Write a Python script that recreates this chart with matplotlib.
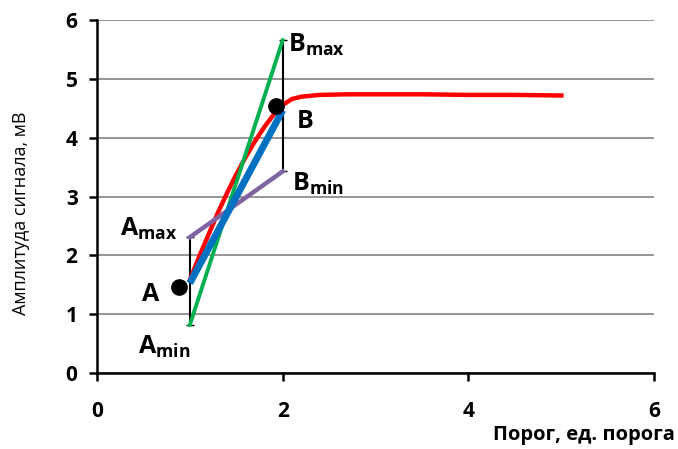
import numpy as np
import matplotlib
matplotlib.use("Agg")
import matplotlib.pyplot as plt

plt.rcParams['font.family'] = ['Open Sans', 'DejaVu Sans']
plt.rcParams['mathtext.fontset'] = 'custom'
plt.rcParams['mathtext.bf'] = 'Open Sans:bold'
plt.rcParams['mathtext.rm'] = 'Open Sans:bold'

# red curve: signal amplitude vs threshold
curve_x = [1.0, 1.1, 1.2, 1.3, 1.4, 1.5, 1.6, 1.7, 1.8, 1.9, 2.0, 2.1, 2.2, 2.4, 2.7, 3.0, 3.5, 4.0, 4.5, 5.0]
curve_y = [1.58, 1.98, 2.35, 2.72, 3.06, 3.38, 3.67, 3.94, 4.18, 4.39, 4.56, 4.66, 4.7, 4.73, 4.74, 4.74, 4.74, 4.73, 4.73, 4.72]

# measured points A and B
pts_x = [0.88, 1.93]
pts_y = [1.46, 4.54]

# fitted line and bounds
fit_x = [1.0, 2.0]
fit_y = [1.53, 4.47]
max_slope_y = [0.82, 5.66]
min_slope_y = [2.31, 3.43]

fig = plt.figure(figsize=(6.78, 4.49), dpi=100)
ax = fig.add_axes([0.143, 0.169, 0.822, 0.786])

ax.set_xlim(0, 6)
ax.set_ylim(0, 6)
ax.set_yticks(range(0, 7))
ax.set_xticks([0, 2, 4, 6])
ax.grid(axis='y', color='#8c8c8c', lw=1.3)
ax.set_axisbelow(True)
for s in ['top', 'right']:
    ax.spines[s].set_visible(False)
for s in ['left', 'bottom']:
    ax.spines[s].set_linewidth(1.8)
ax.tick_params(width=1.8, length=6, labelsize=15, pad=8)
for lbl in ax.get_xticklabels() + ax.get_yticklabels():
    lbl.set_fontweight('bold')
ax.tick_params(axis='x', pad=14)

# error bars (vertical black)
ax.plot([fit_x[0], fit_x[0]], [max_slope_y[0], min_slope_y[0]], color='black', lw=1.5,
        marker='_', ms=6, zorder=3)
ax.plot([fit_x[1], fit_x[1]], [min_slope_y[1], max_slope_y[1]], color='black', lw=1.5,
        marker='_', ms=6, zorder=3)

ax.plot(curve_x, curve_y, color='#ff0000', lw=3.2, zorder=4)
ax.plot(fit_x, max_slope_y, color='#00b050', lw=2.8, zorder=5)
ax.plot(fit_x, min_slope_y, color='#8064a2', lw=3.2, zorder=5)
ax.plot(fit_x, fit_y, color='#0070c0', lw=5, solid_capstyle='butt', zorder=6)
ax.plot(pts_x, pts_y, 'o', color='black', ms=11, zorder=7)

tkw = dict(fontsize=18, fontweight='bold', va='center')
ax.text(2.06, 5.58, r'$\mathbf{B_{max}}$', **tkw)
ax.text(2.15, 4.27, 'B', **tkw)
ax.text(2.1, 3.22, r'$\mathbf{B_{min}}$', **tkw)
ax.text(0.86, 2.45, r'$\mathbf{A_{max}}$', ha='right', **tkw)
ax.text(0.67, 1.34, 'A', ha='right', **tkw)
ax.text(0.44, 0.45, r'$\mathbf{A_{min}}$', **tkw)

ax.set_ylabel('Амплитуда сигнала, мВ', fontsize=13)
ax.yaxis.set_label_coords(-0.12, 0.453)
fig.text(0.996, 0.01, 'Порог, ед. порога', fontsize=14.5, fontweight='bold',
         ha='right', va='bottom')

fig.savefig('out.png', dpi=100)
